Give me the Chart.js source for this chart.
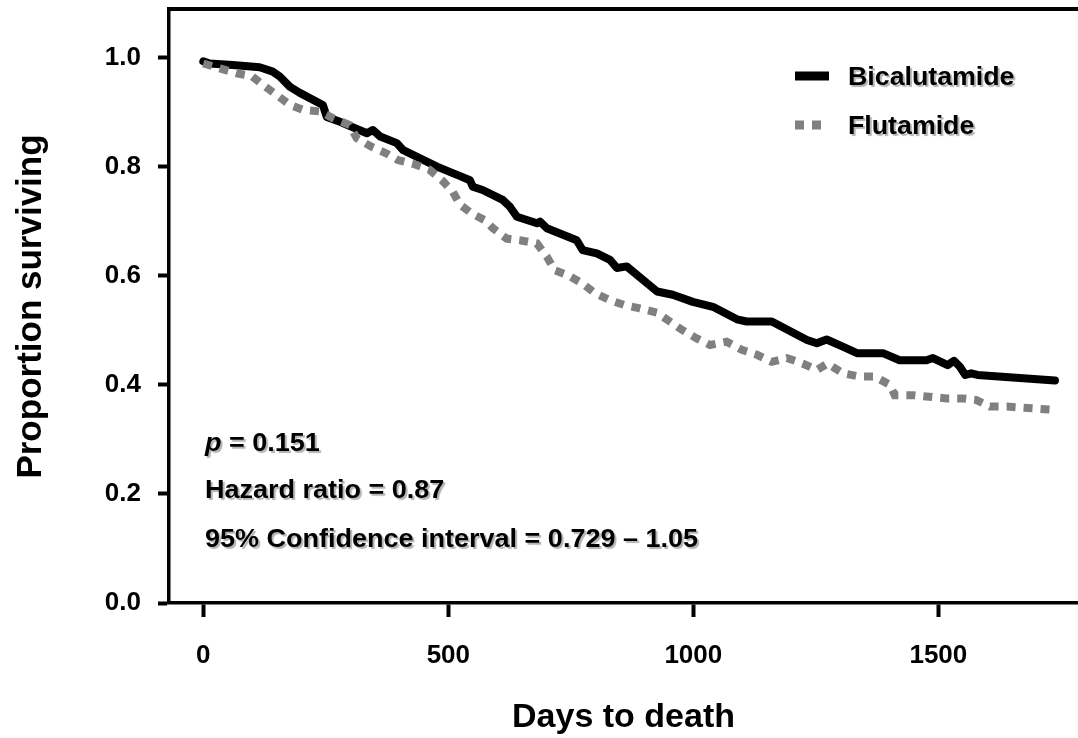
<!DOCTYPE html>
<html>
<head>
<meta charset="utf-8">
<script src="https://cdn.jsdelivr.net/npm/chart.js@4.4.1/dist/chart.umd.min.js"></script>
<style>
  html, body { margin: 0; padding: 0; background: #fff; }
  canvas { display: block; }
</style>
</head>
<body>
<canvas id="kmChart" width="1078" height="738"></canvas>
<script>
// Kaplan-Meier curves
const seriesNames = ['Bicalutamide', 'Flutamide'];

const bicaDays = [0, 13, 60, 115, 142, 156, 177, 197, 244, 252, 279, 334, 346, 361, 395, 408, 477, 509,
  523, 544, 550, 570, 611, 626, 640, 681, 687, 701, 748, 762, 774, 803, 830, 844, 864, 926, 958, 999,
  1040, 1089, 1109, 1160, 1232, 1252, 1272, 1305, 1334, 1387, 1421, 1476, 1489, 1519, 1532, 1544,
  1555, 1567, 1580, 1738];
const bicaSurv = [0.993, 0.989, 0.986, 0.982, 0.974, 0.965, 0.946, 0.935, 0.913, 0.891, 0.882, 0.861, 0.867,
  0.855, 0.843, 0.83, 0.80, 0.788, 0.783, 0.775, 0.763, 0.757, 0.739, 0.726, 0.708, 0.696, 0.699, 0.687,
  0.670, 0.665, 0.647, 0.641, 0.629, 0.614, 0.617, 0.571, 0.565, 0.552, 0.543, 0.520, 0.516, 0.516,
  0.482, 0.476, 0.483, 0.47, 0.458, 0.458, 0.445, 0.445, 0.449, 0.436, 0.444, 0.433, 0.418, 0.421,
  0.418, 0.408];

const fluDays = [0, 34, 68, 99, 121, 150, 177, 203, 238, 264, 299, 313, 344, 374, 397, 428, 462, 487, 509,
  524, 548, 574, 591, 619, 646, 681, 701, 717, 744, 773, 799, 830, 860, 891, 926, 952, 978, 1007, 1034,
  1068, 1099, 1130, 1160, 1191, 1223, 1252, 1274, 1305, 1340, 1370, 1401, 1411, 1448, 1517, 1550, 1578,
  1605, 1640, 1738];
const fluSurv = [0.989, 0.98, 0.971, 0.966, 0.95, 0.931, 0.913, 0.904, 0.901, 0.889, 0.876, 0.852, 0.836,
  0.824, 0.812, 0.805, 0.794, 0.775, 0.754, 0.73, 0.714, 0.702, 0.687, 0.668, 0.665, 0.659, 0.635, 0.610,
  0.601, 0.586, 0.568, 0.555, 0.546, 0.540, 0.532, 0.516, 0.500, 0.485, 0.473, 0.479, 0.464, 0.455,
  0.442, 0.449, 0.439, 0.427, 0.439, 0.421, 0.415, 0.415, 0.400, 0.381, 0.381, 0.375, 0.375, 0.372,
  0.360, 0.360, 0.354];

const xTicks = [0, 500, 1000, 1500];
const yTicks = [0, 0.2, 0.4, 0.6, 0.8, 1.0];

const statLines = [
  [['p', 'italic bold'], [' = 0.151', 'bold']],
  [['Hazard ratio = 0.87', 'bold']],
  [['95% Confidence interval = 0.729 \u2013 1.05', 'bold']]
];

const FONT = '"Liberation Sans", Arial, sans-serif';
Chart.defaults.font.family = FONT;
Chart.defaults.color = '#000';

function toPoints(xs, ys) {
  return xs.map((x, i) => ({x: x, y: ys[i]}));
}

// text with the slight grey drop shadow of the original, a bit wide
function shadowText(ctx, parts, x, y, size, stretch) {
  ctx.save();
  ctx.translate(x, y);
  ctx.scale(stretch, 1);
  ctx.shadowColor = 'rgba(0,0,0,0.3)';
  ctx.shadowOffsetX = 2;
  ctx.shadowOffsetY = 2;
  ctx.shadowBlur = 1;
  ctx.fillStyle = '#000';
  ctx.textBaseline = 'alphabetic';
  let cx = 0;
  parts.forEach(([text, style]) => {
    ctx.font = style + ' ' + size + 'px ' + FONT;
    ctx.fillText(text, cx, 0);
    cx += ctx.measureText(text).width;
  });
  ctx.restore();
}

// top frame line, legend in the corner and the stats text
const extras = {
  id: 'extras',
  afterDraw(chart) {
    const {ctx, chartArea} = chart;
    ctx.save();
    ctx.strokeStyle = '#000';
    ctx.lineWidth = 4;
    ctx.beginPath();
    ctx.moveTo(chartArea.left - 2, chartArea.top - 1);
    ctx.lineTo(chartArea.right, chartArea.top - 1);
    ctx.stroke();

    chart.data.datasets.forEach((ds, i) => {
      const y = 76 + i * 49;
      ctx.save();
      ctx.strokeStyle = ds.borderColor;
      ctx.lineWidth = 9;
      ctx.lineCap = 'butt';
      ctx.setLineDash(ds.borderDash || []);
      ctx.beginPath();
      ctx.moveTo(795, y);
      ctx.lineTo(829, y);
      ctx.stroke();
      ctx.restore();
      shadowText(ctx, [[ds.label, 'bold']], 848, y + 9, 25, 1.07);
    });

    const baselines = [451, 498, 547];
    statLines.forEach((parts, i) => shadowText(ctx, parts, 205, baselines[i], 25, 1.08));
    ctx.restore();
  }
};

new Chart(document.getElementById('kmChart'), {
  type: 'line',
  data: {
    datasets: [{
      label: seriesNames[0],
      data: toPoints(bicaDays, bicaSurv),
      borderColor: '#000',
      borderWidth: 8,
      borderCapStyle: 'round',
      borderJoinStyle: 'round',
      pointRadius: 0,
      tension: 0,
      order: 1
    }, {
      label: seriesNames[1],
      data: toPoints(fluDays, fluSurv),
      borderColor: '#808080',
      borderWidth: 8,
      borderDash: [9, 8],
      borderCapStyle: 'butt',
      pointRadius: 0,
      tension: 0,
      order: 0
    }]
  },
  options: {
    responsive: false,
    animation: false,
    layout: { padding: { top: 10, right: 0, left: 0, bottom: 0 } },
    plugins: {
      legend: { display: false },
      tooltip: { enabled: false }
    },
    scales: {
      x: {
        type: 'linear',
        min: -70,
        max: 1785,
        afterFit(scale) { scale.height = 135; scale.paddingLeft = 0; scale.paddingRight = 0; },
        afterBuildTicks(scale) { scale.ticks = xTicks.map(v => ({value: v})); },
        border: { display: true, color: '#000', width: 3.5 },
        grid: { drawOnChartArea: false, drawTicks: true, tickLength: 14, tickWidth: 4, tickColor: '#000' },
        ticks: { font: { size: 26, weight: 'bold' }, padding: 23, maxRotation: 0, callback: v => String(v) },
        title: { display: true, text: 'Days to death', font: { size: 34, weight: 'bold' }, padding: { top: 0, bottom: 0 } }
      },
      y: {
        min: 0,
        max: 1.087,
        afterFit(scale) { scale.width = 169; scale.paddingTop = 0; scale.paddingBottom = 0; },
        afterBuildTicks(scale) { scale.ticks = yTicks.map(v => ({value: v})); },
        border: { display: true, color: '#000', width: 3.5 },
        grid: { drawOnChartArea: false, drawTicks: true, tickLength: 11, tickWidth: 4, tickColor: '#000' },
        ticks: { font: { size: 26, weight: 'bold' }, padding: 17, callback: v => v.toFixed(1) },
        title: { display: true, text: 'Proportion surviving', font: { size: 35, weight: 'bold' }, padding: { top: 10, bottom: 0 } }
      }
    }
  },
  plugins: [extras]
});
</script>
</body>
</html>
